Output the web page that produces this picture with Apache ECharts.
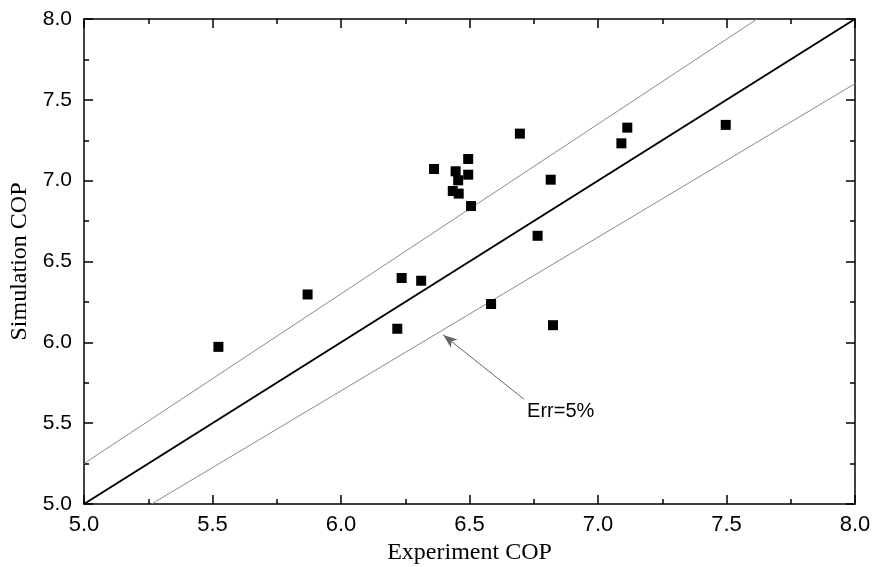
<!DOCTYPE html>
<html>
<head>
<meta charset="utf-8">
<script src="https://cdn.jsdelivr.net/npm/echarts@6/dist/echarts.min.js"></script>
<style>html,body{margin:0;padding:0;background:#fff;}#c{width:877px;height:567px;}</style>
</head>
<body>
<div id="c"></div>
<script>
var experimentCOP = [5.523, 5.870, 6.219, 6.236, 6.312, 6.362, 6.446, 6.495, 6.495, 6.456, 6.435, 6.458, 6.506, 6.584, 6.696, 6.765, 6.816, 6.825, 7.091, 7.114, 7.497];
var simulationCOP = [5.972, 6.296, 6.084, 6.398, 6.381, 7.072, 7.058, 7.134, 7.037, 7.002, 6.936, 6.920, 6.843, 6.237, 7.291, 6.659, 7.006, 6.106, 7.231, 7.328, 7.345];
var idealLine = [[5, 5], [8, 8]];
var upperLine = [[5, 5.25], [7.619, 8]];
var lowerLine = [[5.263, 5], [8, 7.6]];
var arrowFrom = [6.712, 5.648];
var arrowTo = [6.398, 6.046];
var annotText = 'Err=5%';
var annotPos = [6.724, 5.571];
var axisMin = 5, axisMax = 8, axisStep = 0.5;

var points = experimentCOP.map(function (v, i) { return [v, simulationCOP[i]]; });

var chart = echarts.init(document.getElementById('c'));
var axisCommon = {
  type: 'value', min: axisMin, max: axisMax, interval: axisStep,
  axisLine: { show: true, onZero: false, lineStyle: { color: '#000', width: 1.5 } },
  axisTick: { show: true, inside: true, length: 9, lineStyle: { color: '#000', width: 1.5 } },
  minorTick: { show: true, splitNumber: 2, length: 5, lineStyle: { color: '#000', width: 1.5 } },
  splitLine: { show: false }
};
function ax(extra) { return Object.assign({}, JSON.parse(JSON.stringify(axisCommon)), extra); }
function fmt(v) { return v.toFixed(1); }
var sans = 'Liberation Sans, Arial, sans-serif';
var serif = 'Liberation Serif, Times New Roman, serif';

chart.setOption({
  animation: false,
  backgroundColor: '#fff',
  grid: { left: 84, top: 19, right: 22, bottom: 63, containLabel: false, outerBoundsMode: 'none' },
  xAxis: [
    ax({ position: 'bottom', axisLabel: { margin: 10, color: '#000', fontFamily: sans, fontSize: 22, formatter: fmt },
      name: 'Experiment COP', nameLocation: 'middle', nameGap: 30,
      nameTextStyle: { color: '#000', fontFamily: serif, fontSize: 24 } }),
    ax({ position: 'top', axisLabel: { show: false } })
  ],
  yAxis: [
    ax({ position: 'left', axisLabel: { margin: 12, color: '#000', fontFamily: sans, fontSize: 21, formatter: fmt },
      name: 'Simulation COP', nameLocation: 'middle', nameGap: 48,
      nameTextStyle: { color: '#000', fontFamily: serif, fontSize: 24 } }),
    ax({ position: 'right', axisLabel: { show: false } })
  ],
  series: [
    { type: 'line', data: idealLine, symbol: 'none', lineStyle: { color: '#000', width: 2 }, silent: true, z: 2 },
    { type: 'line', data: upperLine, symbol: 'none', lineStyle: { color: '#8a8a8a', width: 1 }, silent: true, z: 2 },
    { type: 'line', data: lowerLine, symbol: 'none', lineStyle: { color: '#8a8a8a', width: 1 }, silent: true, z: 2,
      markLine: {
        silent: true, symbol: ['none', 'arrow'], symbolSize: [8, 14],
        lineStyle: { color: '#666', width: 1, type: 'solid' },
        itemStyle: { color: '#000' },
        label: { show: false },
        data: [[{ coord: arrowFrom }, { coord: arrowTo }]]
      },
      markPoint: {
        silent: true, symbol: 'circle', symbolSize: 0,
        label: { show: true, formatter: annotText, position: 'right', distance: 0, color: '#000', fontFamily: sans, fontSize: 20 },
        data: [{ coord: annotPos }]
      }
    },
    { type: 'scatter', data: points, symbol: 'rect', symbolSize: 10, itemStyle: { color: '#000', opacity: 1 }, z: 5 }
  ]
});
</script>
</body>
</html>
